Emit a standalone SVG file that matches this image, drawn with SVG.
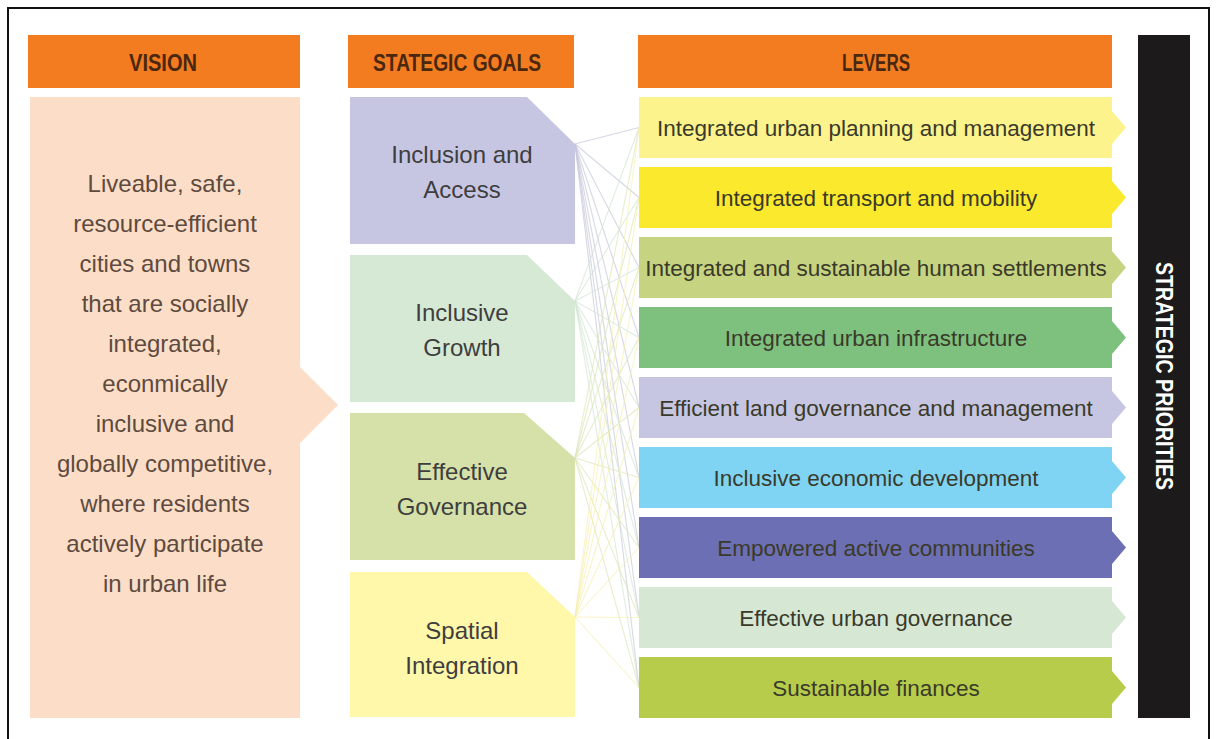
<svg xmlns="http://www.w3.org/2000/svg" width="1216" height="739" viewBox="0 0 1216 739">
<style>
.hdr{fill:#f47c20}
.htxt{font-family:"Liberation Sans",Arial,sans-serif;font-weight:bold;font-size:24px;fill:#4a2810;text-anchor:middle}
.vtxt{font-family:"Liberation Sans",Arial,sans-serif;font-size:24px;fill:#5e4a3e;text-anchor:middle}
.gtxt{font-family:"Liberation Sans",Arial,sans-serif;font-size:24px;fill:#3e3e3e;text-anchor:middle}
.ltxt{font-family:"Liberation Sans",Arial,sans-serif;font-size:22.5px;fill:#3a3a2a;text-anchor:middle}
.c1{stroke:#c6c6dc;stroke-width:1.1;fill:none;opacity:0.7}
.c2{stroke:#d2e5d2;stroke-width:1.1;fill:none;opacity:0.7}
.c3{stroke:#dde6b8;stroke-width:1.1;fill:none;opacity:0.7}
.c4{stroke:#f6efb0;stroke-width:1.1;fill:none;opacity:0.7}
</style>
<rect x="0" y="0" width="1216" height="739" fill="#ffffff"/>
<path d="M8,745 V8 H1209 V745" fill="none" stroke="#111" stroke-width="2"/>

<g id="headers">
<rect class="hdr" x="28" y="35" width="272" height="53"/>
<text class="htxt" x="163" y="71" textLength="68" lengthAdjust="spacingAndGlyphs">VISION</text>
<rect class="hdr" x="348" y="35" width="226" height="53"/>
<text class="htxt" x="457" y="71" textLength="168" lengthAdjust="spacingAndGlyphs">STATEGIC GOALS</text>
<rect class="hdr" x="638" y="35" width="474" height="53"/>
<text class="htxt" x="876" y="71" textLength="68" lengthAdjust="spacingAndGlyphs">LEVERS</text>
</g>

<g id="connectors">
<line class="c1" x1="575" y1="144" x2="639" y2="127.5"/>
<line class="c1" x1="575" y1="144" x2="639" y2="197.5"/>
<line class="c1" x1="575" y1="144" x2="639" y2="267.5"/>
<line class="c1" x1="575" y1="144" x2="639" y2="337.5"/>
<line class="c1" x1="575" y1="144" x2="639" y2="407.5"/>
<line class="c1" x1="575" y1="144" x2="639" y2="477.5"/>
<line class="c1" x1="575" y1="144" x2="639" y2="547.5"/>
<line class="c1" x1="575" y1="144" x2="639" y2="617.5"/>
<line class="c1" x1="575" y1="144" x2="639" y2="687.5"/>
<line class="c2" x1="575" y1="301" x2="639" y2="127.5"/>
<line class="c2" x1="575" y1="301" x2="639" y2="197.5"/>
<line class="c2" x1="575" y1="301" x2="639" y2="267.5"/>
<line class="c2" x1="575" y1="301" x2="639" y2="337.5"/>
<line class="c2" x1="575" y1="301" x2="639" y2="407.5"/>
<line class="c2" x1="575" y1="301" x2="639" y2="477.5"/>
<line class="c2" x1="575" y1="301" x2="639" y2="547.5"/>
<line class="c2" x1="575" y1="301" x2="639" y2="617.5"/>
<line class="c2" x1="575" y1="301" x2="639" y2="687.5"/>
<line class="c3" x1="575" y1="458" x2="639" y2="127.5"/>
<line class="c3" x1="575" y1="458" x2="639" y2="197.5"/>
<line class="c3" x1="575" y1="458" x2="639" y2="267.5"/>
<line class="c3" x1="575" y1="458" x2="639" y2="337.5"/>
<line class="c3" x1="575" y1="458" x2="639" y2="407.5"/>
<line class="c3" x1="575" y1="458" x2="639" y2="477.5"/>
<line class="c3" x1="575" y1="458" x2="639" y2="547.5"/>
<line class="c3" x1="575" y1="458" x2="639" y2="617.5"/>
<line class="c3" x1="575" y1="458" x2="639" y2="687.5"/>
<line class="c4" x1="575" y1="617" x2="639" y2="127.5"/>
<line class="c4" x1="575" y1="617" x2="639" y2="197.5"/>
<line class="c4" x1="575" y1="617" x2="639" y2="267.5"/>
<line class="c4" x1="575" y1="617" x2="639" y2="337.5"/>
<line class="c4" x1="575" y1="617" x2="639" y2="407.5"/>
<line class="c4" x1="575" y1="617" x2="639" y2="477.5"/>
<line class="c4" x1="575" y1="617" x2="639" y2="547.5"/>
<line class="c4" x1="575" y1="617" x2="639" y2="617.5"/>
<line class="c4" x1="575" y1="617" x2="639" y2="687.5"/>
</g>

<g id="vision">
<path d="M30,97 H300 V367 L338,405 L300,443 V718 H30 Z" fill="#fcdec8"/>
<text class="vtxt" x="165" y="192">Liveable, safe,</text>
<text class="vtxt" x="165" y="232">resource-efficient</text>
<text class="vtxt" x="165" y="272">cities and towns</text>
<text class="vtxt" x="165" y="312">that are socially</text>
<text class="vtxt" x="165" y="352">integrated,</text>
<text class="vtxt" x="165" y="392">econmically</text>
<text class="vtxt" x="165" y="432">inclusive and</text>
<text class="vtxt" x="165" y="472">globally competitive,</text>
<text class="vtxt" x="165" y="512">where residents</text>
<text class="vtxt" x="165" y="552">actively participate</text>
<text class="vtxt" x="165" y="592">in urban life</text>
</g>

<g id="goal-inclusion">
<path d="M350,97 H527 L575,144 V244 H350 Z" fill="#c6c6e2"/>
<text class="gtxt" x="462" y="163" fill="#3a3a5a">Inclusion and</text>
<text class="gtxt" x="462" y="198">Access</text>
</g>
<g id="goal-growth">
<path d="M350,255 H527 L575,301 V402 H350 Z" fill="#d6e9d5"/>
<text class="gtxt" x="462" y="321">Inclusive</text>
<text class="gtxt" x="462" y="356">Growth</text>
</g>
<g id="goal-governance">
<path d="M350,413 H524 L575,458 V560 H350 Z" fill="#d5e1a8"/>
<text class="gtxt" x="462" y="480">Effective</text>
<text class="gtxt" x="462" y="515">Governance</text>
</g>
<g id="goal-spatial">
<path d="M350,572 H527 L575,617 V717 H350 Z" fill="#fff7aa"/>
<text class="gtxt" x="462" y="639">Spatial</text>
<text class="gtxt" x="462" y="674">Integration</text>
</g>

<g id="lever-1">
<path d="M639,97 H1112 V111 L1126,127.5 L1112,144 V158 H639 Z" fill="#fdf38c"/>
<text class="ltxt" x="876" y="136">Integrated urban planning and management</text>
</g>
<g id="lever-2">
<path d="M639,167 H1112 V181 L1126,197.5 L1112,214 V228 H639 Z" fill="#fbe92e"/>
<text class="ltxt" x="876" y="206">Integrated transport and mobility</text>
</g>
<g id="lever-3">
<path d="M639,237 H1112 V251 L1126,267.5 L1112,284 V298 H639 Z" fill="#c6d380"/>
<text class="ltxt" x="876" y="276">Integrated and sustainable human settlements</text>
</g>
<g id="lever-4">
<path d="M639,307 H1112 V321 L1126,337.5 L1112,354 V368 H639 Z" fill="#7ec17f"/>
<text class="ltxt" x="876" y="346">Integrated urban infrastructure</text>
</g>
<g id="lever-5">
<path d="M639,377 H1112 V391 L1126,407.5 L1112,424 V438 H639 Z" fill="#c6c6e2"/>
<text class="ltxt" x="876" y="416" fill="#383850">Efficient land governance and management</text>
</g>
<g id="lever-6">
<path d="M639,447 H1112 V461 L1126,477.5 L1112,494 V508 H639 Z" fill="#7fd4f4"/>
<text class="ltxt" x="876" y="486" fill="#1f4858">Inclusive economic development</text>
</g>
<g id="lever-7">
<path d="M639,517 H1112 V531 L1126,547.5 L1112,564 V578 H639 Z" fill="#6c6fb3"/>
<text class="ltxt" x="876" y="556" fill="#272a55">Empowered active communities</text>
</g>
<g id="lever-8">
<path d="M639,587 H1112 V601 L1126,617.5 L1112,634 V648 H639 Z" fill="#d6e8d4"/>
<text class="ltxt" x="876" y="626">Effective urban governance</text>
</g>
<g id="lever-9">
<path d="M639,657 H1112 V671 L1126,687.5 L1112,704 V718 H639 Z" fill="#b7cc4b"/>
<text class="ltxt" x="876" y="696">Sustainable finances</text>
</g>

<g id="strategic-priorities">
<rect x="1138" y="35" width="52" height="683" fill="#1c1a1b"/>
<text transform="translate(1156,376) rotate(90)" x="0" y="0" text-anchor="middle" font-family="Liberation Sans, Arial, sans-serif" font-weight="bold" font-size="24" fill="#ffffff" textLength="228" lengthAdjust="spacingAndGlyphs">STRATEGIC PRIORITIES</text>
</g>
</svg>
